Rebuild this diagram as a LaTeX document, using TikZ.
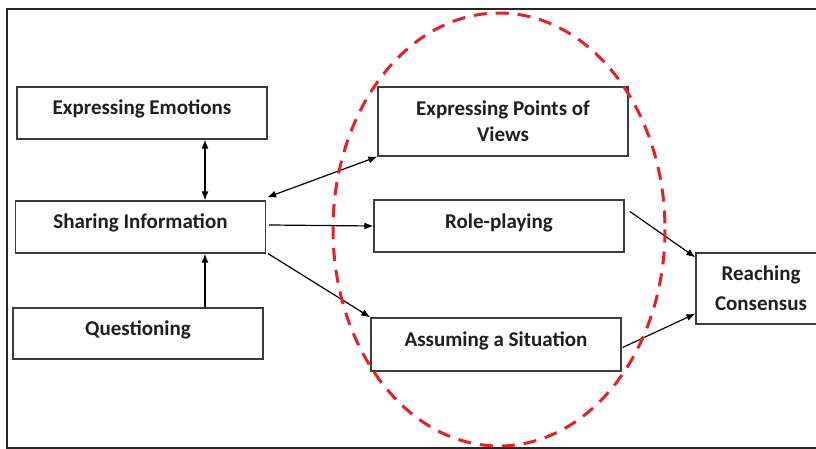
\documentclass[tikz,border=0pt]{standalone}
\usepackage{fontspec}
\setmainfont{Carlito}
\usetikzlibrary{arrows.meta,calc}
\definecolor{ovalred}{RGB}{228,32,40}
\definecolor{boxline}{RGB}{60,60,60}
\tikzset{
  box/.style={draw=boxline, line width=1.3pt, minimum width=250pt, minimum height=52pt,
    inner sep=0pt, align=center, font=\fontsize{21}{26}\selectfont\bfseries, text=black!88},
  oneline/.style={text height=12pt, text depth=8pt},
  conn/.style={line width=1.2pt, -{Latex[length=9pt,width=7pt]}},
  bconn/.style={line width=1.2pt, {Latex[length=9pt,width=7pt]}-{Latex[length=9pt,width=7pt]}}
}
\begin{document}
\begin{tikzpicture}[x=1pt,y=-1pt]
\useasboundingbox (0,0) rectangle (816,449);
\clip (0,0) rectangle (816,449);
\fill[white] (0,0) rectangle (816,449);
\draw[line width=2.2pt, black!85] (830,9) -- (7,9) -- (7,448) -- (830,448);
\node[box, oneline] (EE) at (142,113) {Expressing Emotions};
\node[box, oneline] (SI) at (140.5,227) {Sharing Information};
\node[box, oneline, minimum height=51pt] (Q) at (138,333.5) {Questioning};
\node[box, minimum height=69pt] (EPV) at (503,121.5) {Expressing Points of\\Views};
\node[box, oneline] (RP) at (499,226) {Role-playing};
\node[box, oneline, minimum height=53pt] (AS) at (496,344.5) {Assuming a Situation};
\node[box, minimum width=130pt, minimum height=71pt] (RC) at (761,288.5) {Reaching\\[4pt]Consensus};
\coordinate (xv) at (205,0);
\draw[bconn] (EE.south -| xv) -- (SI.north -| xv);
\draw[conn] (Q.north -| xv) -- (SI.south -| xv);
\draw[bconn] ($(SI.north east)+(1,-3)$) -- (EPV.south west);
\draw[conn] ($(SI.east)+(3,-2)$) -- (RP.west);
\draw[conn] ($(SI.south east)+(2,0)$) -- (AS.north west);
\draw[conn] ($(RP.north east)+(5,12)$) -- ($(RC.north west)+(0,5)$);
\draw[conn] ($(AS.east)+(1,3)$) -- ($(RC.south west)+(0,-11)$);
\draw[ovalred, line width=3pt, dash pattern=on 13pt off 9pt] (499,229.5) ellipse [x radius=166, y radius=216.5];
\end{tikzpicture}
\end{document}
